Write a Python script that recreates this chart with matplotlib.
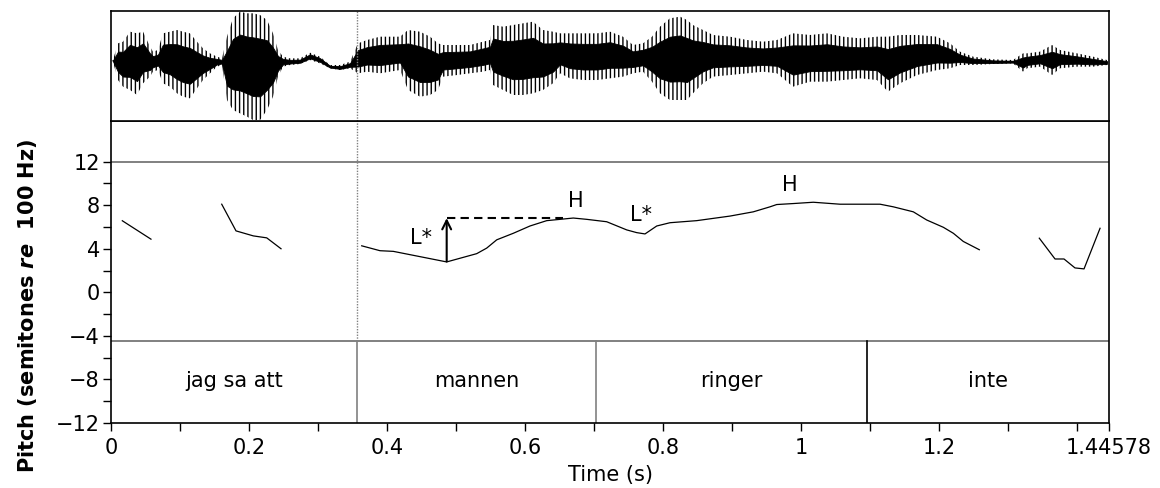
import numpy as np
import matplotlib
matplotlib.use("Agg")
import matplotlib.pyplot as plt

plt.rcParams['font.family'] = ['DejaVu Sans']
plt.rcParams['mathtext.fontset'] = 'custom'
plt.rcParams['mathtext.it'] = 'DejaVu Sans:italic:bold'
plt.rcParams['mathtext.rm'] = 'DejaVu Sans:bold'
plt.rcParams['hatch.linewidth'] = 1.0

# ---------------- data ----------------
T_END = 1.44578

# waveform envelope (time, upper, lower amplitude, normalised -1..1)
wave_t = [0.0029, 0.0101, 0.0174, 0.0275, 0.0377, 0.0464, 0.0565, 0.0608, 0.0681, 0.0753,
          0.0855, 0.0956, 0.1043, 0.1144, 0.1246, 0.1333, 0.1434, 0.1536, 0.1608, 0.1680,
          0.1767, 0.1869, 0.1970, 0.2057, 0.2159, 0.2260, 0.2347, 0.2419, 0.2492, 0.2593,
          0.2738, 0.2883, 0.3028, 0.3173, 0.3318, 0.3463, 0.3578, 0.3709, 0.3897, 0.4042,
          0.4187, 0.4303, 0.4477, 0.4622, 0.4737, 0.4810, 0.5013, 0.5201, 0.5389, 0.5491,
          0.5534, 0.5679, 0.5824, 0.5969, 0.6114, 0.6258, 0.6403, 0.6505, 0.6650, 0.6838,
          0.7041, 0.7229, 0.7417, 0.7562, 0.7707, 0.7837, 0.7953, 0.8098, 0.8243, 0.8345,
          0.8431, 0.8576, 0.8721, 0.8967, 0.9214, 0.9446, 0.9648, 0.9880, 1.0126, 1.0373,
          1.0604, 1.0851, 1.1097, 1.1256, 1.1430, 1.1677, 1.1966, 1.2155, 1.2299, 1.2488,
          1.2778, 1.3067, 1.3212, 1.3270, 1.3459, 1.3633, 1.3748, 1.3994, 1.4226, 1.4429]
wave_top = [0.109, 0.412, 0.442, 0.624, 0.594, 0.624, 0.352, 0.261, 0.291, 0.594,
            0.624, 0.655, 0.624, 0.594, 0.442, 0.321, 0.230, 0.170, 0.139, 0.533,
            0.867, 0.988, 0.958, 0.958, 0.927, 0.836, 0.594, 0.291, 0.170, 0.139,
            0.139, 0.242, 0.170, 0.018, 0.018, 0.079, 0.412, 0.473, 0.533, 0.533,
            0.533, 0.655, 0.624, 0.533, 0.412, 0.382, 0.382, 0.382, 0.442, 0.473,
            0.745, 0.715, 0.745, 0.776, 0.806, 0.655, 0.624, 0.594, 0.594, 0.594,
            0.594, 0.624, 0.533, 0.382, 0.412, 0.533, 0.715, 0.867, 0.897, 0.836,
            0.745, 0.655, 0.564, 0.533, 0.473, 0.442, 0.473, 0.594, 0.564, 0.594,
            0.533, 0.503, 0.533, 0.533, 0.564, 0.564, 0.533, 0.412, 0.261, 0.170,
            0.121, 0.109, 0.230, 0.230, 0.261, 0.382, 0.291, 0.230, 0.170, 0.109]
wave_bot = [0.079, -0.255, -0.376, -0.436, -0.527, -0.315, -0.194, -0.103, -0.073, -0.315,
            -0.376, -0.497, -0.558, -0.588, -0.406, -0.255, -0.133, -0.012, 0.018, -0.618,
            -0.800, -0.861, -0.921, -0.982, -0.982, -0.800, -0.558, -0.194, -0.012, 0.018,
            0.036, 0.109, 0.048, -0.042, -0.073, -0.042, -0.133, -0.103, -0.133, -0.103,
            -0.073, -0.436, -0.558, -0.527, -0.436, -0.194, -0.164, -0.133, -0.103, -0.073,
            -0.345, -0.436, -0.527, -0.527, -0.497, -0.436, -0.315, -0.133, -0.224, -0.255,
            -0.255, -0.224, -0.194, -0.133, -0.103, -0.285, -0.497, -0.618, -0.618, -0.618,
            -0.497, -0.315, -0.194, -0.164, -0.133, -0.103, -0.133, -0.376, -0.285, -0.285,
            -0.255, -0.224, -0.255, -0.467, -0.315, -0.164, -0.073, -0.042, 0.018, 0.018,
            0.036, 0.048, -0.103, -0.042, -0.012, -0.164, -0.042, -0.012, -0.012, 0.018]

# pitch contour segments (semitones re 100 Hz)
pitch_t = [
    [0.0164, 0.0579],
    [0.1604, 0.1811, 0.2062, 0.2256, 0.2463],
    [0.3632, 0.3897, 0.4090, 0.4863, 0.5298, 0.5443, 0.5588, 0.5828, 0.6070, 0.6312,
     0.6505, 0.6697, 0.6892, 0.7181, 0.7471, 0.7616, 0.7736, 0.7906, 0.8098, 0.8485,
     0.8726, 0.8967, 0.9305, 0.9547, 0.9644, 0.9884, 1.0174, 1.0561, 1.1141, 1.1333,
     1.1623, 1.1817, 1.2058, 1.2203, 1.2347, 1.2579],
    [1.3448, 1.3676, 1.3806, 1.3965, 1.4096, 1.4328],
]
pitch_v = [
    [6.57, 4.88],
    [8.09, 5.64, 5.18, 5.00, 4.00],
    [4.27, 3.82, 3.76, 2.79, 3.55, 4.06, 4.82, 5.42, 6.09, 6.58,
     6.70, 6.82, 6.70, 6.48, 5.73, 5.48, 5.36, 6.09, 6.39, 6.58,
     6.79, 7.00, 7.39, 7.85, 8.06, 8.15, 8.27, 8.09, 8.09, 7.85,
     7.39, 6.64, 5.97, 5.42, 4.67, 3.91],
    [4.97, 3.06, 3.06, 2.24, 2.15, 5.88],
]

# text grid intervals
tier_bounds = [0.0, 0.3564, 0.7020, 1.0950, T_END]
tier_labels = ["jag sa att", "mannen", "ringer", "inte"]
bound_colors = ["#808080", "#808080", "black"]

# tone annotations
tone_labels = ["L*", "H", "L*", "H"]
tone_t = [0.449, 0.674, 0.768, 0.984]
tone_v = [5.0, 8.4, 7.11, 9.86]
arrow_t = 0.4863
arrow_from = 2.83
arrow_to = 6.81
dash_end_t = 0.655

xticks_major = [0, 0.2, 0.4, 0.6, 0.8, 1.0, 1.2, T_END]
xtick_labels = ["0", "0.2", "0.4", "0.6", "0.8", "1", "1.2", "1.44578"]
xticks_minor = [0.1, 0.3, 0.5, 0.7, 0.9, 1.1, 1.3, 1.4]
yticks_major = [-12, -8, -4, 0, 4, 8, 12]
yticks_minor = [-10, -6, -2, 2, 6, 10]

# ---------------- figure ----------------
W, H = 1160, 488
fig = plt.figure(figsize=(W / 100, H / 100), dpi=100)

L = 111 / W
AW = 998 / W
ax = fig.add_axes([L, (H - 423) / H, AW, (423 - 121) / H])
axw = fig.add_axes([L, (H - 121) / H, AW, 110 / H])

FS = 15

# waveform
wt = np.array(wave_t)
wtop = np.array(wave_top)
wbot = np.array(wave_bot)
mid = (wtop + wbot) / 2
half = (wtop - wbot) / 2
axw.fill_between(wt, wbot, wtop, facecolor='none', edgecolor='black',
                 hatch='||||', linewidth=0)
axw.fill_between(wt, mid - 0.55 * half, mid + 0.55 * half, color='black', linewidth=0.6)
axw.plot(wt, mid, color='black', lw=0.9)
axw.axvline(tier_bounds[1], color='#808080', lw=1.0, ls=(0, (1, 1)))
axw.set_xlim(0, T_END)
axw.set_ylim(-1, 1)
axw.set_xticks([])
axw.set_yticks([])
for s in axw.spines.values():
    s.set_linewidth(1.2)
    s.set_color('black')

# pitch
for tt, vv in zip(pitch_t, pitch_v):
    ax.plot(tt, vv, color='black', lw=0.9)

ax.set_xlim(0, T_END)
ax.set_ylim(-12, 15.73)

tg_top = -4.45
ax.axhline(12, color='#808080', lw=1.4)
ax.axhline(tg_top, color='#808080', lw=1.4)
ax.plot([tier_bounds[1], tier_bounds[1]], [tg_top, 15.73], color='#808080', lw=1.0,
        ls=(0, (1, 1)))

# text grid
for b, c in zip(tier_bounds[1:-1], bound_colors):
    ax.plot([b, b], [-12, tg_top], color=c, lw=1.2)
for i, lab in enumerate(tier_labels):
    cx = (tier_bounds[i] + tier_bounds[i + 1]) / 2
    ax.text(cx, -8.1, lab, ha='center', va='center', fontsize=FS)

# annotations
for lab, tt, vv in zip(tone_labels, tone_t, tone_v):
    ax.text(tt, vv, lab, ha='center', va='center', fontsize=FS)
ax.annotate("", xy=(arrow_t, arrow_to), xytext=(arrow_t, arrow_from),
            arrowprops=dict(arrowstyle='->', color='black', lw=1.5,
                            mutation_scale=16, shrinkA=0, shrinkB=0))
ax.plot([arrow_t, dash_end_t], [arrow_to, arrow_to], color='black', lw=1.5,
        ls=(0, (4, 2.5)))

# axes styling
ax.set_xticks(xticks_major)
ax.set_xticklabels(xtick_labels)
ax.set_xticks(xticks_minor, minor=True)
ax.set_yticks(yticks_major)
ax.set_yticks(yticks_minor, minor=True)
ax.tick_params(axis='both', which='both', direction='out', length=6, width=1,
               labelsize=FS, color='black')
ax.tick_params(axis='x', which='both', pad=5)
ax.tick_params(axis='y', which='both', pad=2)
for s in ax.spines.values():
    s.set_linewidth(1.2)
    s.set_color('black')

fig.text(610 / W, 1 - 475 / H, "Time (s)", ha='center', va='center', fontsize=FS)
fig.text(28 / W, 1 - 306 / H, r"Pitch (semitones $\mathit{re}$  100 Hz)",
         rotation=90, ha='center', va='center', fontsize=FS, fontweight='bold')

fig.savefig("out.png", dpi=100)
